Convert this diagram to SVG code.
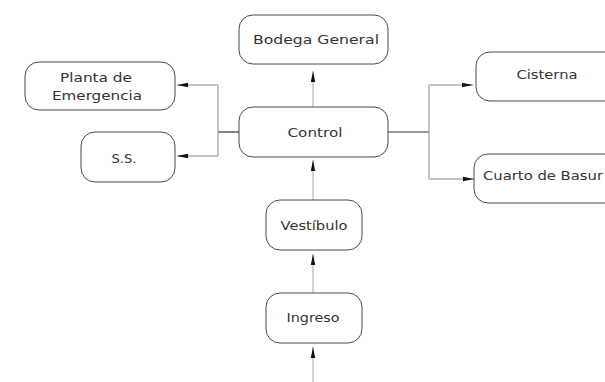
<svg xmlns="http://www.w3.org/2000/svg" width="605" height="382" viewBox="0 0 605 382">
<style>
.box{fill:#fff;stroke:#4a4a4a;stroke-width:1}
.t{font-family:"DejaVu Sans","Liberation Sans",sans-serif;font-size:13px;fill:#333}
.c{text-anchor:middle}
.lt{fill:none;stroke:#c4c4c4;stroke-width:1.5}
.lm{fill:none;stroke:#8a8a8a;stroke-width:1}
.ld{fill:none;stroke:#333;stroke-width:1.2}
</style>
<defs>
<marker id="ah" markerUnits="userSpaceOnUse" markerWidth="12" markerHeight="6" refX="11" refY="3" orient="auto">
<path d="M0,0.8 L11,3 L0,5.2 Z" fill="#111"/>
</marker>
</defs>
<rect width="605" height="382" fill="#fff"/>
<g id="connectors">
<line class="lt" x1="313" y1="382" x2="313" y2="347" marker-end="url(#ah)"/>
<line class="lt" x1="313" y1="293" x2="313" y2="254" marker-end="url(#ah)"/>
<line class="lt" x1="313" y1="200" x2="313" y2="160" marker-end="url(#ah)"/>
<line class="lt" x1="313" y1="107" x2="313" y2="71" marker-end="url(#ah)"/>
<line class="ld" x1="239" y1="132" x2="218" y2="132"/>
<polyline class="lm" points="218,156 218,85"/>
<line class="lm" x1="218" y1="85" x2="177" y2="85" marker-end="url(#ah)"/>
<line class="lm" x1="218" y1="156" x2="177" y2="156" marker-end="url(#ah)"/>
<line class="ld" x1="388" y1="132" x2="429" y2="132"/>
<polyline class="lm" points="429,85 429,179"/>
<line class="lm" x1="429" y1="85" x2="473" y2="85" marker-end="url(#ah)"/>
<line class="lm" x1="429" y1="179" x2="474" y2="179" marker-end="url(#ah)"/>
</g>
<g id="bodega">
<rect class="box" x="239" y="15" width="149" height="49" rx="14"/>
<text class="t c" x="316" y="44" textLength="126" lengthAdjust="spacingAndGlyphs">Bodega General</text>
</g>
<g id="planta">
<rect class="box" x="25" y="62" width="150" height="48" rx="14"/>
<text class="t c" x="96" y="82" textLength="72" lengthAdjust="spacingAndGlyphs">Planta de</text>
<text class="t c" x="97" y="100" textLength="90" lengthAdjust="spacingAndGlyphs">Emergencia</text>
</g>
<g id="ss">
<rect class="box" x="81" y="132" width="94" height="50" rx="14"/>
<text class="t c" x="124" y="163">S.S.</text>
</g>
<g id="control">
<rect class="box" x="239" y="107" width="149" height="50" rx="14"/>
<text class="t c" x="315" y="137" textLength="55" lengthAdjust="spacingAndGlyphs">Control</text>
</g>
<g id="cisterna">
<rect class="box" x="476" y="52" width="160" height="49" rx="14"/>
<text class="t c" x="547" y="79" textLength="61" lengthAdjust="spacingAndGlyphs">Cisterna</text>
</g>
<g id="cuarto">
<rect class="box" x="474" y="154" width="162" height="49" rx="14"/>
<text class="t" x="483" y="180" textLength="120" lengthAdjust="spacingAndGlyphs">Cuarto de Basur</text>
</g>
<g id="vestibulo">
<rect class="box" x="266" y="200" width="96" height="50" rx="14"/>
<text class="t c" x="314" y="230" textLength="67" lengthAdjust="spacingAndGlyphs">Vestíbulo</text>
</g>
<g id="ingreso">
<rect class="box" x="266" y="293" width="96" height="50" rx="14"/>
<text class="t c" x="313" y="322" textLength="53" lengthAdjust="spacingAndGlyphs">Ingreso</text>
</g>
</svg>
